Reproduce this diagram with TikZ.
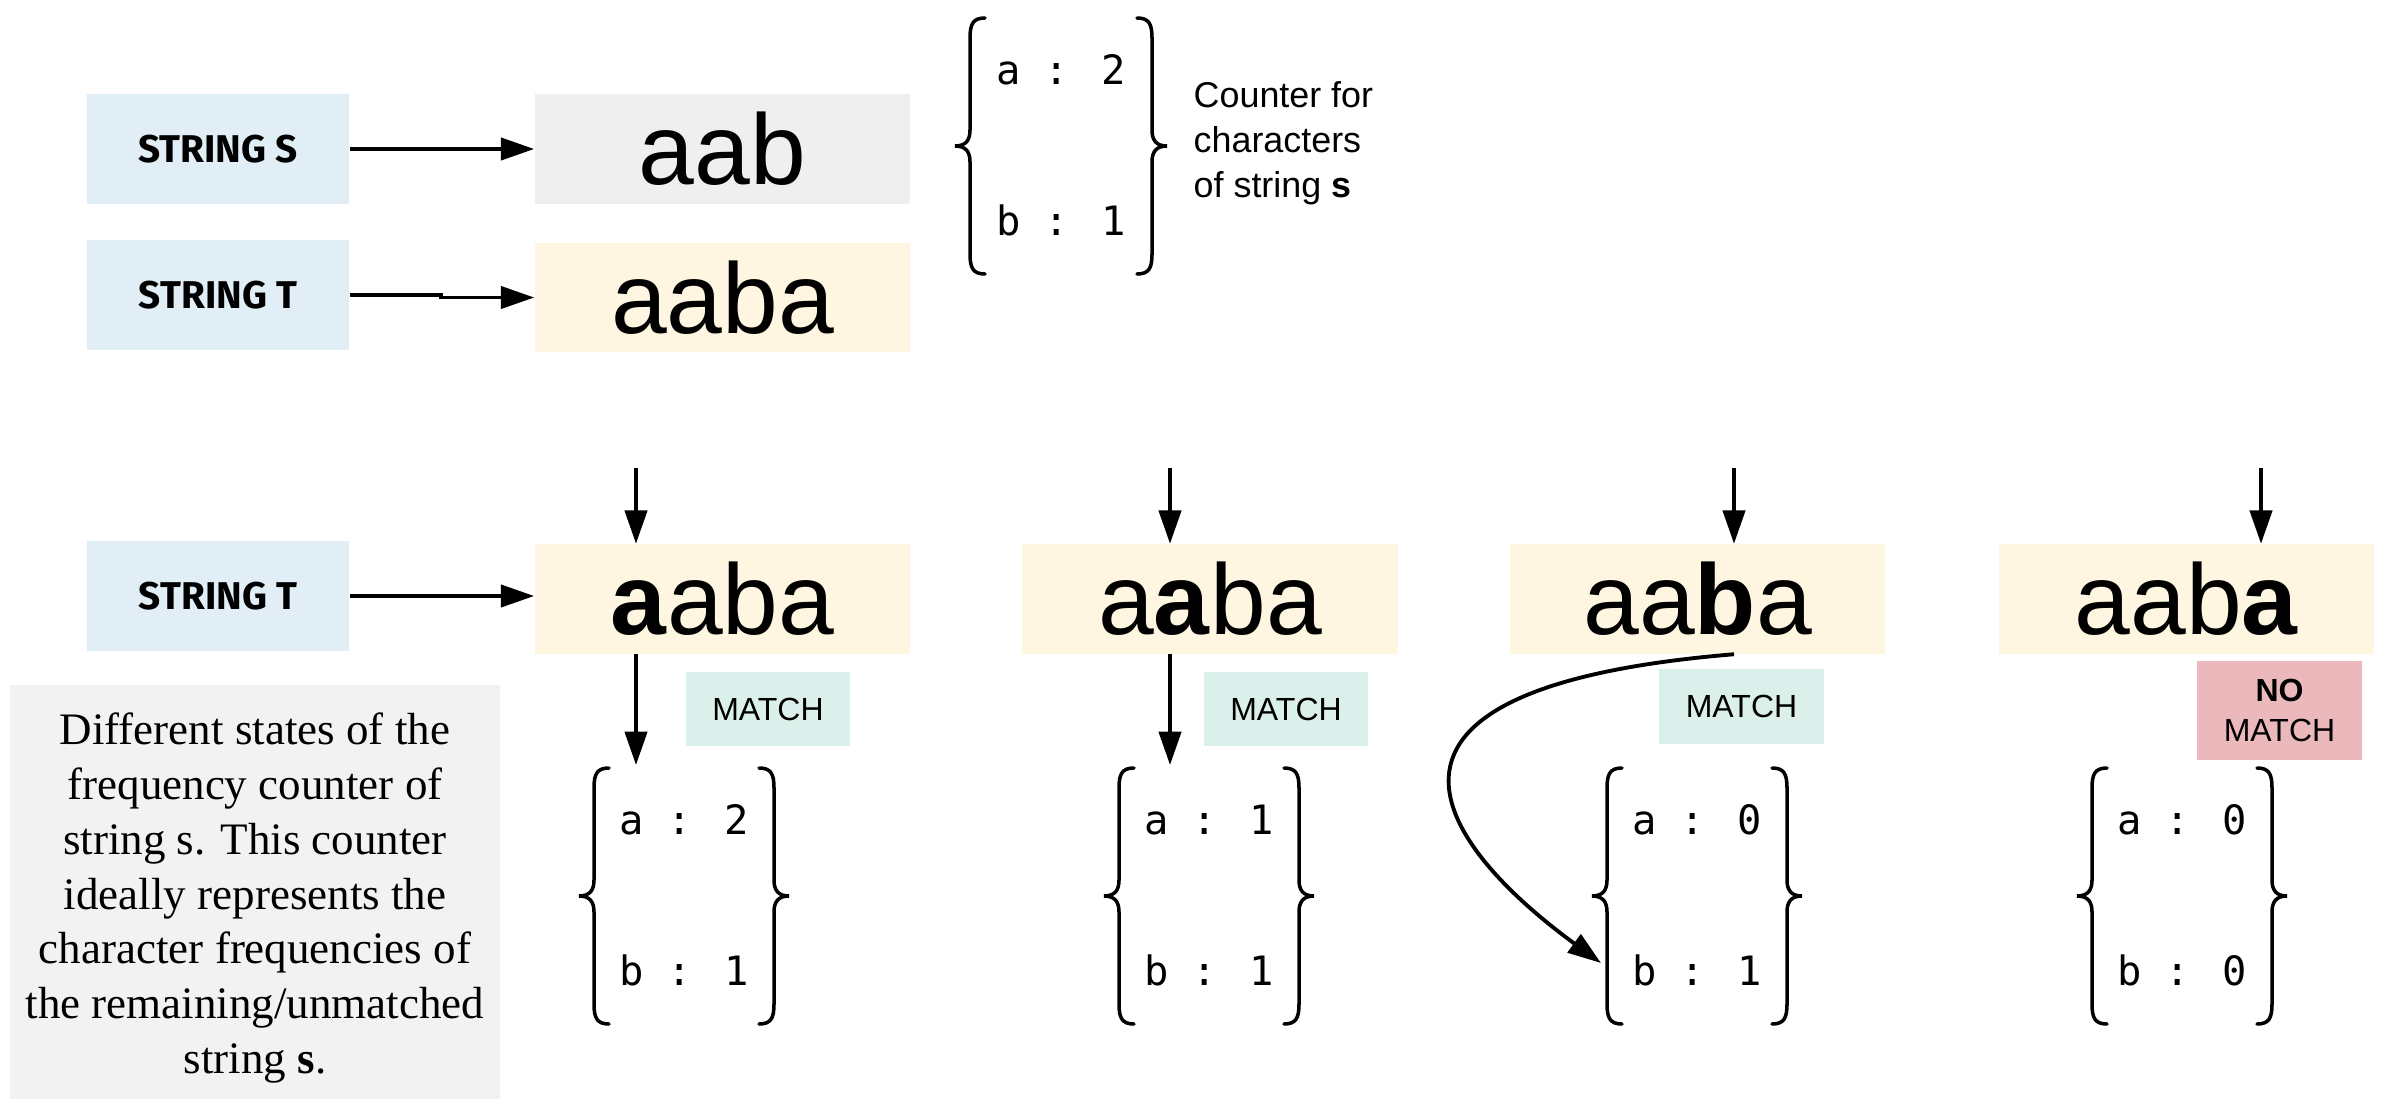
\documentclass[tikz,border=0pt]{standalone}
\usepackage{fontspec}
\setmainfont{Liberation Sans}
\newfontfamily\serifx{Liberation Serif}
\newfontfamily\monox{DejaVu Sans Mono}
\newfontfamily\labelx{Fira Sans}
\usetikzlibrary{arrows.meta}
\definecolor{sblue}{RGB}{225,238,246}
\definecolor{sgray}{RGB}{239,239,239}
\definecolor{syel}{RGB}{254,246,224}
\definecolor{smatch}{RGB}{220,240,235}
\definecolor{snomatch}{RGB}{235,184,187}
\definecolor{snote}{RGB}{242,242,242}
\begin{document}
\begin{tikzpicture}[x=0.01cm,y=-0.01cm,
  lbl/.style={fill=sblue, minimum width=2.62cm, minimum height=1.1cm, inner sep=0,
    font=\labelx\bfseries\fontsize{11pt}{13pt}\selectfont},
  strbox/.style={minimum width=3.75cm, minimum height=1.09cm, inner sep=0,
    font=\fontsize{28.5pt}{34pt}\selectfont},
  cnt/.style={font=\monox\fontsize{11.5pt}{14pt}\selectfont, anchor=base, inner sep=0},
  mbox/.style={fill=smatch, minimum width=1.64cm, minimum height=0.74cm, inner sep=0,
    align=center, font=\fontsize{9.1pt}{11.5pt}\selectfont},
  arr/.style={-{Triangle[length=9.5pt,width=6.3pt]}, line width=1.1pt},
  brc/.style={line width=1pt, line cap=round},
  lbr/.pic={\draw[brc] (15,0) .. controls (3,0) and (0,6) .. (0,20) -- (0,112)
     .. controls (0,122) and (-4,128) .. (-15,128) .. controls (-4,128) and (0,134) .. (0,144)
     -- (0,236) .. controls (0,250) and (3,256) .. (15,256);},
  rbr/.pic={\draw[brc] (-15,0) .. controls (-3,0) and (0,6) .. (0,20) -- (0,112)
     .. controls (0,122) and (4,128) .. (15,128) .. controls (4,128) and (0,134) .. (0,144)
     -- (0,236) .. controls (0,250) and (-3,256) .. (-15,256);}
]
\useasboundingbox (0,0) rectangle (2385,1103);

% top part
\node[lbl] (strS) at (218,149) {STRING S};
\node[strbox, fill=sgray] (s) at (722.5,149) {aab};
\node[lbl] (strT) at (218,295) {STRING T};
\node[strbox, fill=syel] (t) at (722.5,297.5) {aaba};
\draw[arr] (strS) -- (s);
\coordinate (jog) at (441,295);
\draw[arr] (strT.east) -- (jog) |- (t.west);

\pic at (970,18) {lbr};
\pic at (1152,18) {rbr};
\node[cnt] (c0a) at (1061,84) {a : 2};
\node[cnt] (c0b) at (1061,235) {b : 1};
\node[anchor=west, align=left, inner sep=0, font=\fontsize{10.2pt}{12.8pt}\selectfont] (cap) at (1193,143)
  {Counter for\\characters\\of string \textbf{s}};

% bottom row
\node[lbl] (strT2) at (218,596) {STRING T};
\node[strbox, fill=syel] (b1) at (722.5,599) {\textbf{a}aba};
\node[strbox, fill=syel] (b2) at (1210,599) {a\textbf{a}ba};
\node[strbox, fill=syel] (b3) at (1697.5,599) {aa\textbf{b}a};
\node[strbox, fill=syel] (b4) at (2186.5,599) {aab\textbf{a}};
\draw[arr] (strT2.east) -- (strT2.east -| b1.west);

\coordinate (d1) at (636,468);
\coordinate (d2) at (1170,468);
\coordinate (d3) at (1734,468);
\coordinate (d4) at (2261,468);
\foreach \i in {1,2,3,4} \draw[arr] (d\i) -- (d\i |- b\i.north);

\coordinate (e1) at (636,765);
\coordinate (e2) at (1170,765);
\coordinate (e3) at (1601,963);
\draw[arr] (e1 |- b1.south) -- (e1);
\draw[arr] (e2 |- b2.south) -- (e2);
\draw[arr] (d3 |- b3.south) .. controls (1300,690) and (1460,860) .. (e3);

\node[mbox] (m1) at (768,709) {MATCH};
\node[mbox] (m2) at (1286,709) {MATCH};
\node[mbox] (m3) at (1741.5,706.5) {MATCH};
\node[mbox, fill=snomatch, minimum width=1.65cm, minimum height=0.99cm] (m4) at (2279.5,710.5) {\textbf{NO}\\MATCH};

% counters
\foreach \cx/\va/\vb [count=\k] in {684/2/1, 1209/1/1, 1697/0/1, 2182/0/0} {
  \pic at (\cx-90,768) {lbr};
  \pic at (\cx+90,768) {rbr};
  \node[cnt] (c\k a) at (\cx,834) {a : \va};
  \node[cnt] (c\k b) at (\cx,985) {b : \vb};
}

\node[fill=snote, minimum width=4.9cm, minimum height=4.13cm, inner sep=0] (notebox) at (255,892) {};
\node[align=center, inner sep=0, font=\serifx\fontsize{12.8pt}{15.6pt}\selectfont] (note) at (255,898)
  {Different states of the\\frequency counter of\\string s. This counter\\ideally represents the\\character frequencies of\\the remaining/unmatched\\string \textbf{s}.};
\end{tikzpicture}
\end{document}
